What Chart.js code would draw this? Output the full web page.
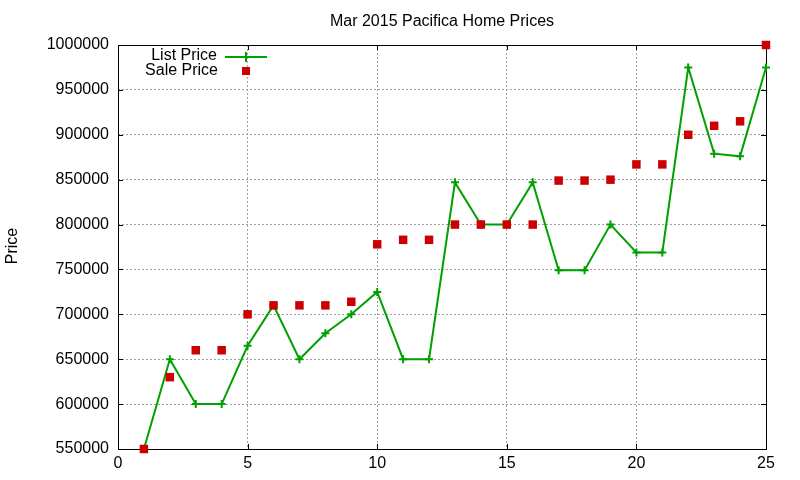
<!DOCTYPE html>
<html>
<head>
<meta charset="utf-8">
<title>Mar 2015 Pacifica Home Prices</title>
<script src="https://cdn.jsdelivr.net/npm/chart.js@4/dist/chart.umd.min.js"></script>
<style>
  html, body { margin: 0; padding: 0; background: #fff; }
  #wrap { width: 800px; height: 480px; }
</style>
</head>
<body>
<div id="wrap"><canvas id="priceChart" width="800" height="480"></canvas></div>
<script>
// data
var days = [1, 2, 3, 4, 5, 6, 7, 8, 9, 10, 11, 12, 13, 14, 15, 16, 17, 18, 19, 20, 21, 22, 23, 24, 25];
var listPrices = [550000, 650000, 600000, 600000, 665000, 710000, 650000, 679000, 700000, 725000,
                  650000, 650000, 847000, 800000, 800000, 847000, 749000, 749000, 800000, 769000,
                  769000, 975000, 879000, 876000, 975000];
var salePrices = [550000, 630000, 660000, 660000, 700000, 710000, 710000, 710000, 714000, 778000,
                  783000, 783000, 800000, 800000, 800000, 800000, 849000, 849000, 850000, 867000,
                  867000, 900000, 910000, 915000, 1000000];
var xTicks = [0, 5, 10, 15, 20, 25];
var yTicks = [550000, 600000, 650000, 700000, 750000, 800000, 850000, 900000, 950000, 1000000];

var chartTitle = 'Mar 2015 Pacifica Home Prices';
var yLabel = 'Price';
var seriesNames = ['List Price', 'Sale Price'];

var listColor = '#00a000';
var saleColor = '#cc0000';
var fontName = '"Liberation Sans", Arial, sans-serif';

function toPoints(xs, ys) {
    return xs.map(function (x, i) { return { x: x, y: ys[i] }; });
}

// frame, inward ticks, title, axis label and the legend, gnuplot style
var gnuplotBits = {
    id: 'gnuplotBits',
    beforeDatasetsDraw: function (chart) {
        var ctx = chart.ctx;
        var a = chart.chartArea;
        var xs = chart.scales.x, ys = chart.scales.y;
        ctx.save();
        ctx.strokeStyle = '#000';
        ctx.lineWidth = 1;
        ctx.beginPath();
        xTicks.forEach(function (t) {
            var px = Math.round(xs.getPixelForValue(t)) + 0.5;
            ctx.moveTo(px, a.bottom); ctx.lineTo(px, a.bottom - 5);
            ctx.moveTo(px, a.top); ctx.lineTo(px, a.top + 5);
        });
        yTicks.forEach(function (t) {
            var py = Math.round(ys.getPixelForValue(t)) + 0.5;
            ctx.moveTo(a.left, py); ctx.lineTo(a.left + 5, py);
            ctx.moveTo(a.right, py); ctx.lineTo(a.right - 5, py);
        });
        ctx.stroke();
        ctx.strokeRect(Math.round(a.left) + 0.5, Math.round(a.top) + 0.5,
                       Math.round(a.right - a.left), Math.round(a.bottom - a.top));
        ctx.restore();
    },
    afterDraw: function (chart) {
        var ctx = chart.ctx;
        var a = chart.chartArea;
        ctx.save();
        ctx.fillStyle = '#000';
        ctx.font = '16px ' + fontName;
        ctx.textBaseline = 'middle';

        // title
        ctx.textAlign = 'center';
        ctx.fillText(chartTitle, (a.left + a.right) / 2, 22);

        // y label
        ctx.save();
        ctx.translate(13, 246);
        ctx.rotate(-Math.PI / 2);
        ctx.fillText(yLabel, 0, 0);
        ctx.restore();

        // legend
        ctx.textAlign = 'right';
        ctx.fillText(seriesNames[0], 217, 56);
        ctx.fillText(seriesNames[1], 218, 71);

        ctx.strokeStyle = listColor;
        ctx.lineWidth = 2;
        ctx.beginPath();
        ctx.moveTo(225, 57); ctx.lineTo(267, 57);
        ctx.moveTo(246, 52); ctx.lineTo(246, 62);
        ctx.stroke();

        ctx.fillStyle = saleColor;
        ctx.fillRect(242, 67, 8, 8);
        ctx.restore();
    }
};

var ctx = document.getElementById('priceChart').getContext('2d');
var priceChart = new Chart(ctx, {
    type: 'line',
    data: {
        datasets: [
            {
                label: seriesNames[1],
                data: toPoints(days, salePrices),
                showLine: false,
                pointStyle: 'rect',
                pointRadius: 6,
                pointBorderWidth: 0,
                pointBackgroundColor: saleColor,
                pointBorderColor: saleColor,
                clip: false
            },
            {
                label: seriesNames[0],
                data: toPoints(days, listPrices),
                borderColor: listColor,
                borderWidth: 2,
                tension: 0,
                fill: false,
                pointStyle: 'cross',
                pointRadius: 4,
                pointBorderWidth: 2,
                pointBorderColor: listColor,
                clip: false
            }
        ]
    },
    options: {
        responsive: false,
        animation: false,
        events: [],
        layout: { padding: { top: 45, right: 34, left: 0, bottom: 0 } },
        plugins: {
            legend: { display: false },
            title: { display: false },
            tooltip: { enabled: false }
        },
        scales: {
            x: {
                type: 'linear',
                min: 0,
                max: 25,
                afterFit: function (scale) { scale.height = 31; },
                afterBuildTicks: function (scale) {
                    scale.ticks = xTicks.map(function (v) { return { value: v }; });
                },
                grid: { color: '#a0a0a0', lineWidth: 1, drawTicks: false },
                border: { display: false, dash: [2, 2] },
                ticks: {
                    padding: 5,
                    color: '#000',
                    font: { family: fontName, size: 16 },
                    maxRotation: 0
                }
            },
            y: {
                type: 'linear',
                min: 550000,
                max: 1000000,
                afterFit: function (scale) { scale.width = 118; },
                afterBuildTicks: function (scale) {
                    scale.ticks = yTicks.map(function (v) { return { value: v }; });
                },
                grid: { color: '#a0a0a0', lineWidth: 1, drawTicks: false },
                border: { display: false, dash: [2, 2] },
                ticks: {
                    padding: 9,
                    color: '#000',
                    font: { family: fontName, size: 16 },
                    callback: function (v) { return String(v); }
                }
            }
        }
    },
    plugins: [gnuplotBits]
});
</script>
</body>
</html>
